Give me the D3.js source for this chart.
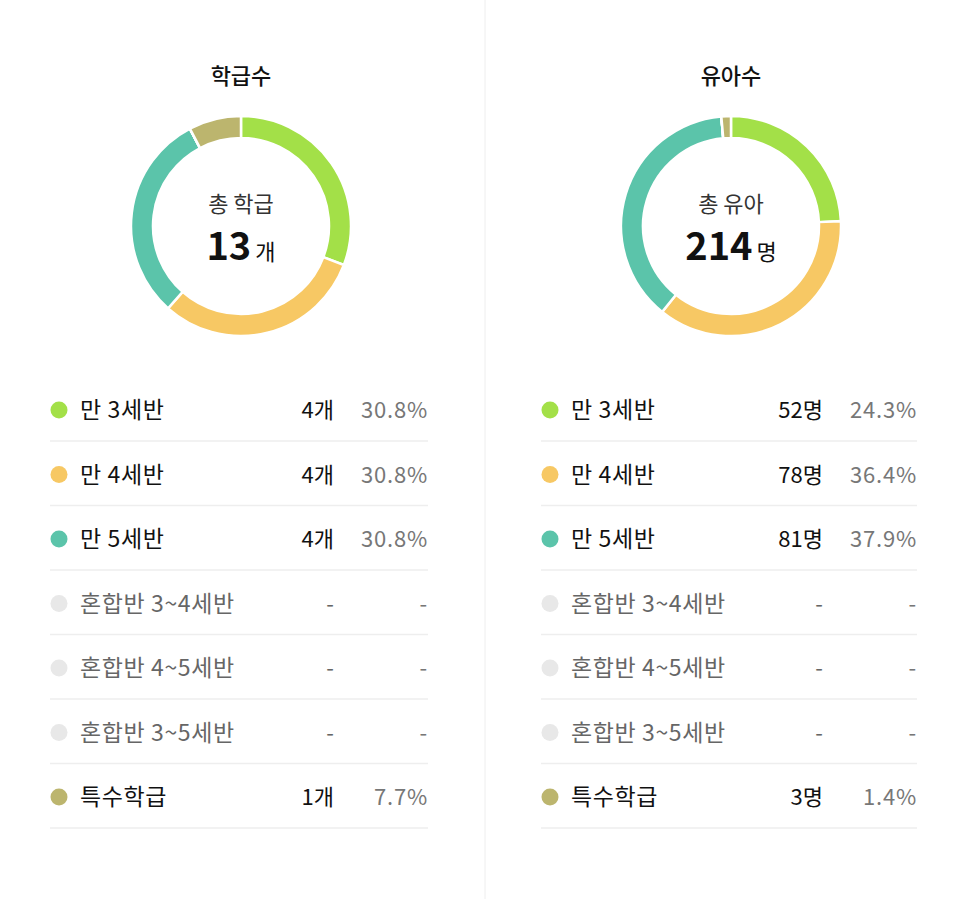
<!DOCTYPE html>
<html><head><meta charset="utf-8">
<script src="https://cdn.jsdelivr.net/npm/d3@7"></script>
<style>body{margin:0;background:#fff;font-family:"Noto Sans CJK KR","Noto Sans",sans-serif}</style>
</head><body><svg id="c" width="966" height="899"></svg>
<script>
const categories=["만 3세반","만 4세반","만 5세반","혼합반 3~4세반","혼합반 4~5세반","혼합반 3~5세반","특수학급"];
const colors=["#a3e048","#f7c864","#5bc4aa","#e8e8e8","#e8e8e8","#e8e8e8","#bcb56e"];
const classCounts=[4,4,4,0,0,0,1];
const classPct=["30.8%","30.8%","30.8%","-","-","-","7.7%"];
const childCounts=[52,78,81,0,0,0,3];
const childPct=["24.3%","36.4%","37.9%","-","-","-","1.4%"];
const panels=[
 {title:"학급수",label:"총 학급",total:"13",unit:"개",vals:classCounts,pct:classPct,cx:241,x0:50,x1:428,cnt:334},
 {title:"유아수",label:"총 유아",total:"214",unit:"명",vals:childCounts,pct:childPct,cx:731,x0:541,x1:917,cnt:823}
];
const svg=d3.select("#c");
svg.append("line").attr("x1",485).attr("x2",485).attr("y1",0).attr("y2",899).attr("stroke","#eee");
const pie=d3.pie().sort(null).value(d=>d);
const arc=d3.arc().innerRadius(88).outerRadius(110);
const y=d3.scaleLinear().domain([0,1]).range([410,474.5]);
panels.forEach(p=>{
 const g=svg.append("g");
 g.append("text").attr("x",p.cx).attr("y",84).attr("text-anchor","middle").attr("font-size",22).attr("font-weight",500).attr("fill","#111").text(p.title);
 const dg=g.append("g").attr("transform",`translate(${p.cx},226)`);
 dg.selectAll("path").data(pie(p.vals)).join("path").attr("d",arc).attr("fill",(d,i)=>colors[i]).attr("stroke","#fff").attr("stroke-width",2.5);
 dg.append("text").attr("y",-14).attr("text-anchor","middle").attr("font-size",22).attr("fill","#333").text(p.label);
 const t=dg.append("text").attr("y",34).attr("text-anchor","middle");
 t.append("tspan").attr("font-size",38).attr("font-weight","bold").attr("fill","#111").text(p.total);
 t.append("tspan").attr("font-size",22).attr("fill","#111").attr("dx",4).text(p.unit);
 const unit=p.unit;
 categories.forEach((c,i)=>{
  const yy=y(i), muted=p.vals[i]===0;
  g.append("circle").attr("cx",p.x0+9).attr("cy",yy).attr("r",8.5).attr("fill",colors[i]);
  g.append("text").attr("x",p.x0+30).attr("y",yy+8).attr("font-size",23).attr("letter-spacing",0.6).attr("fill",muted?"#666":"#111").text(c);
  g.append("text").attr("x",p.cnt).attr("y",yy+8).attr("text-anchor","end").attr("font-size",22).attr("fill",muted?"#666":"#111").text(muted?"-":p.vals[i]+unit);
  g.append("text").attr("x",p.x1).attr("y",yy+8).attr("text-anchor","end").attr("font-size",22).attr("letter-spacing",0.8).attr("fill","#777").text(p.pct[i]);
  g.append("line").attr("x1",p.x0).attr("x2",p.x1).attr("y1",yy+31).attr("y2",yy+31).attr("stroke","#eee").attr("stroke-width",1.5);
 });
});
</script></body></html>
